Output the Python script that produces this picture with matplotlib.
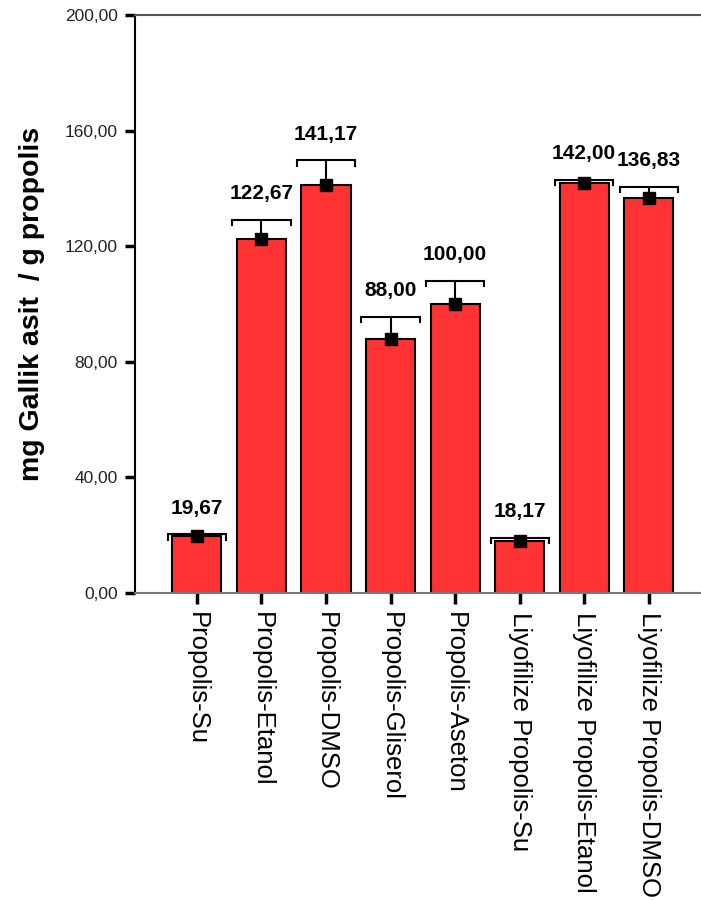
import matplotlib
matplotlib.use("Agg")
import matplotlib.pyplot as plt
import numpy as np

plt.rcParams['font.family'] = ['Liberation Sans', 'DejaVu Sans']

categories = ["Propolis-Su", "Propolis-Etanol", "Propolis-DMSO", "Propolis-Gliserol",
              "Propolis-Aseton", "Liyofilize Propolis-Su", "Liyofilize Propolis-Etanol",
              "Liyofilize Propolis-DMSO"]
means = [19.67, 122.67, 141.17, 88.00, 100.00, 18.17, 142.00, 136.83]
errors = [0.6, 6.5, 8.5, 7.6, 8.0, 1.0, 0.9, 3.8]
yticks = [0, 40, 80, 120, 160, 200]

fig = plt.figure(figsize=(7.01, 9.0), dpi=100)
ax = fig.add_axes([0.1926, 0.3411, 0.821, 0.6422])

x = np.arange(len(categories))
ax.bar(x, means, width=0.76, color="#ff3333", edgecolor="black", linewidth=1.5, zorder=2)

# upper error whisker with bracket-shaped cap
cap_half = 0.45
tick_len = 1.8
for xi, m, e in zip(x, means, errors):
    top = m + e
    ax.plot([xi, xi], [m, top], color="black", lw=1.5, zorder=3)
    ax.plot([xi - cap_half, xi - cap_half, xi + cap_half, xi + cap_half],
            [top - tick_len, top, top, top - tick_len],
            color="black", lw=1.5, zorder=3, solid_joinstyle="miter")
    ax.plot(xi, m, marker="s", ms=9.3, color="black", zorder=4)
    ax.annotate(f"{m:.2f}".replace(".", ","), (xi, top), xytext=(0, 12),
                textcoords="offset points", ha="center", va="bottom",
                fontsize=15, fontweight="bold")

ax.set_xlim(-0.96, 7.96)
ax.set_ylim(0, 200)
ax.set_yticks(yticks)
ax.set_yticklabels([f"{v:.2f}".replace(".", ",") for v in yticks], fontsize=12.5, color="#222222")
ax.set_xticks(x)
ax.set_xticklabels(categories, rotation=270, fontsize=18.5, va="top", ha="center")
ax.tick_params(axis="y", direction="out", length=7.5, width=2.5, pad=5)
ax.tick_params(axis="x", direction="out", length=8, width=2.5, pad=6)
ax.set_ylabel("mg Gallik asit  / g propolis", fontsize=20.5, fontweight="bold", labelpad=14)

ax.spines["right"].set_visible(False)
ax.spines["left"].set_linewidth(1.5)
ax.spines["top"].set_color("#555555")
ax.spines["top"].set_linewidth(1.5)
ax.spines["bottom"].set_color("#777777")
ax.spines["bottom"].set_linewidth(1.5)

fig.savefig("out.png", dpi=100)
